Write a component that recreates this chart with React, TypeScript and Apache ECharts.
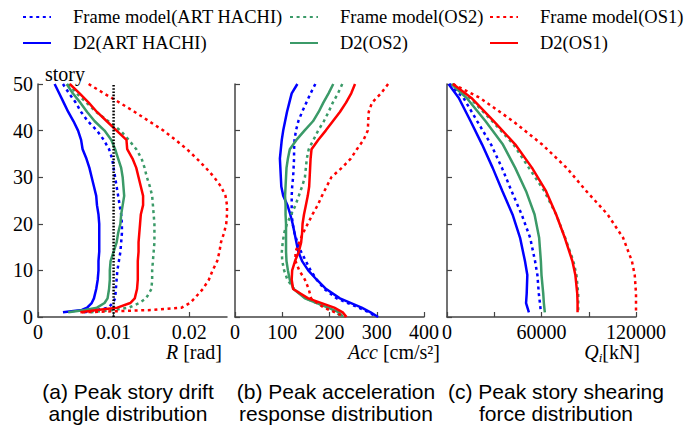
import React, { useEffect, useRef } from 'react';
import * as echarts from 'echarts';

// ---------- data ----------
const SERIES_NAMES = [
  'Frame model(ART HACHI)',
  'D2(ART HACHI)',
  'Frame model(OS2)',
  'D2(OS2)',
  'Frame model(OS1)',
  'D2(OS1)',
];

// (a) peak story drift angle [rad]
const STORY_A = [50, 48, 46, 44, 42, 40, 38, 36, 34, 32, 30, 28, 26, 24, 22, 20, 18, 16, 14, 12, 10, 8, 6, 4, 3, 2, 1.5, 1];
const R_FRAME_ART = [0.0033, 0.0041, 0.005, 0.0057, 0.0066, 0.0078, 0.0087, 0.0094, 0.0098, 0.01, 0.0102, 0.0104, 0.0106, 0.0108, 0.011, 0.0111, 0.0111, 0.011, 0.0109, 0.0107, 0.0105, 0.0104, 0.0103, 0.0102, 0.0099, 0.0093, 0.0078, 0.006];
const R_D2_ART = [0.0022, 0.0028, 0.0034, 0.004, 0.0047, 0.0053, 0.0057, 0.0059, 0.0064, 0.0068, 0.0071, 0.0074, 0.0077, 0.0078, 0.008, 0.0081, 0.0081, 0.0081, 0.0081, 0.008, 0.008, 0.0079, 0.0077, 0.0074, 0.0071, 0.0065, 0.0058, 0.0033];
const R_FRAME_OS2 = [0.004, 0.0051, 0.0064, 0.0077, 0.0093, 0.0109, 0.012, 0.013, 0.0137, 0.0141, 0.0144, 0.0148, 0.0151, 0.0152, 0.0153, 0.0154, 0.0154, 0.0154, 0.0153, 0.0152, 0.0151, 0.0151, 0.015, 0.0143, 0.0134, 0.012, 0.01, 0.0068];
const R_D2_OS2 = [0.0038, 0.0046, 0.0056, 0.0065, 0.0075, 0.0088, 0.0097, 0.0102, 0.0106, 0.011, 0.0112, 0.0113, 0.0114, 0.0112, 0.011, 0.0109, 0.0106, 0.0104, 0.01, 0.0096, 0.0095, 0.0095, 0.0094, 0.0092, 0.0088, 0.0078, 0.0062, 0.004];
const R_FRAME_OS1 = [0.0067, 0.0087, 0.0108, 0.0128, 0.0147, 0.0166, 0.0182, 0.0197, 0.021, 0.0222, 0.0233, 0.0242, 0.0248, 0.025, 0.025, 0.0249, 0.0246, 0.0242, 0.024, 0.0237, 0.0231, 0.0226, 0.0218, 0.0207, 0.0201, 0.019, 0.015, 0.0058];
const R_D2_OS1 = [0.0042, 0.0055, 0.0067, 0.0078, 0.0091, 0.0104, 0.0117, 0.0118, 0.0125, 0.013, 0.0133, 0.0136, 0.0139, 0.0139, 0.0136, 0.0135, 0.0134, 0.0133, 0.0133, 0.0132, 0.0132, 0.0132, 0.0131, 0.0128, 0.0122, 0.0105, 0.0078, 0.0056];
const R_LIMIT = 0.01;

// (b) peak acceleration [cm/s2]
const STORY_B = [50, 48, 46, 44, 42, 40, 38, 36, 34, 32, 30, 28, 26, 24, 22, 20, 18, 16, 14, 12, 10, 8, 6, 4, 2, 1, 0];
const ACC_FRAME_ART = [170, 160, 151, 142, 134, 129, 126, 125, 125, 124, 123, 121, 120, 120, 120, 122, 126, 132, 140, 150, 160, 173, 189, 215, 262, 283, 300];
const ACC_D2_ART = [132, 120, 115, 110, 106, 102, 99, 97, 95, 96, 97, 98, 102, 111, 117, 122, 126, 130, 134, 142, 155, 173, 193, 222, 268, 287, 303];
const ACC_FRAME_OS2 = [227, 218, 207, 198, 188, 176, 166, 156, 152, 150, 148, 142, 135, 128, 119, 110, 104, 101, 99, 100, 104, 111, 125, 150, 195, 215, 225];
const ACC_D2_OS2 = [208, 198, 187, 177, 165, 147, 130, 116, 112, 109, 108, 107, 106, 107, 107, 108, 108, 108, 108, 109, 112, 116, 124, 148, 197, 220, 229];
const ACC_FRAME_OS1 = [324, 309, 290, 283, 282, 281, 272, 258, 245, 226, 204, 194, 184, 175, 164, 154, 144, 136, 128, 128, 136, 148, 156, 161, 188, 212, 232];
const ACC_D2_OS1 = [254, 246, 235, 222, 207, 192, 176, 162, 160, 159, 158, 157, 154, 150, 146, 143, 142, 140, 135, 127, 121, 120, 123, 155, 210, 228, 236];

// (c) peak story shear [kN]
const STORY_C = [50, 47, 42, 37, 32, 27, 22, 17, 12, 9, 5, 3, 1];
const Q_FRAME_ART = [1700, 10500, 19200, 28000, 34900, 41000, 47400, 52800, 55900, 57400, 58300, 59000, 59600];
const Q_D2_ART = [1000, 7500, 15000, 22300, 29000, 35200, 41600, 46400, 49500, 51000, 50600, 50200, 52000];
const Q_FRAME_OS2 = [3800, 14500, 28800, 42300, 52000, 61800, 69300, 75000, 80200, 82200, 83300, 83300, 83300];
const Q_D2_OS2 = [2800, 12500, 24500, 35500, 43300, 50200, 55600, 58500, 59600, 60000, 61100, 61500, 62100];
const Q_FRAME_OS1 = [3800, 21000, 42000, 60500, 76000, 88500, 102000, 111800, 117400, 119200, 120000, 120000, 120000];
const Q_D2_OS1 = [3800, 15500, 29800, 43400, 54000, 62900, 69300, 74800, 79600, 81500, 82700, 82900, 82900];

const CAPTIONS = [
  ['(a) Peak story drift', 'angle distribution'],
  ['(b) Peak acceleration', 'response distribution'],
  ['(c) Peak story shearing', 'force distribution'],
];

// ---------- styling ----------
const BLUE = '#0000ff';
const GREEN = '#3b9a68';
const RED = '#ff0000';
const COLORS = [BLUE, BLUE, GREEN, GREEN, RED, RED];
const SERIF = "'Liberation Serif', 'Times New Roman', serif";
const SANS = "'Liberation Sans', Arial, sans-serif";
const AXIS_COLOR = '#444';
const DOT = [3, 3.6];

const GRID_LEFTS = [38, 235, 447];
const GRID_W = 189;
const GRID_TOP = 84;
const GRID_H = 233;

function buildSeries(gridIdx: number, story: number[], vals: number[][]) {
  return vals.map((xs, i) => ({
    type: 'line',
    name: SERIES_NAMES[i],
    xAxisIndex: gridIdx,
    yAxisIndex: gridIdx,
    symbol: 'none',
    silent: true,
    color: COLORS[i],
    lineStyle: {
      color: COLORS[i],
      width: 2.5,
      type: i % 2 === 0 ? DOT : 'solid',
      cap: 'butt',
    },
    data: xs.map((x, k) => [x, story[k]]),
  }));
}

function xAxis(gridIdx: number, max: number, interval: number, formatter?: (v: number) => string) {
  return {
    gridIndex: gridIdx,
    type: 'value',
    min: 0,
    max,
    interval,
    axisLine: { show: true, onZero: false, lineStyle: { color: AXIS_COLOR, width: 1.5 } },
    axisTick: { show: true, inside: true, length: 5, lineStyle: { color: AXIS_COLOR, width: 1.2 } },
    axisLabel: {
      color: '#000',
      fontSize: 20,
      fontFamily: SERIF,
      margin: 5,
      formatter,
    },
    splitLine: { show: false },
  };
}

function yAxis(gridIdx: number, showLabels: boolean) {
  return {
    gridIndex: gridIdx,
    type: 'value',
    min: 0,
    max: 50,
    interval: 10,
    axisLine: { show: true, onZero: false, lineStyle: { color: AXIS_COLOR, width: 1.5 } },
    axisTick: { show: true, inside: true, length: 5, lineStyle: { color: AXIS_COLOR, width: 1.2 } },
    axisLabel: { show: showLabels, color: '#000', fontSize: 20, fontFamily: SERIF, margin: 5 },
    splitLine: { show: false },
  };
}

function legendCol(left: number, names: string[]) {
  return {
    orient: 'vertical',
    left,
    top: 2,
    itemWidth: 28,
    itemHeight: 14,
    itemGap: 6,
    selectedMode: false,
    data: names,
    itemStyle: { color: 'transparent', borderColor: 'transparent', borderWidth: 0 },
    textStyle: {
      fontFamily: SERIF,
      fontSize: 18.5,
      color: '#000',
      lineHeight: 20,
      padding: [0, 0, 0, 17],
    },
  };
}

const axisNameStyle = {
  fontFamily: SERIF,
  fontSize: 20,
  fill: '#000',
};

function buildOption() {
  const series: any[] = [
    ...buildSeries(0, STORY_A, [R_FRAME_ART, R_D2_ART, R_FRAME_OS2, R_D2_OS2, R_FRAME_OS1, R_D2_OS1]),
    ...buildSeries(1, STORY_B, [ACC_FRAME_ART, ACC_D2_ART, ACC_FRAME_OS2, ACC_D2_OS2, ACC_FRAME_OS1, ACC_D2_OS1]),
    ...buildSeries(2, STORY_C, [Q_FRAME_ART, Q_D2_ART, Q_FRAME_OS2, Q_D2_OS2, Q_FRAME_OS1, Q_D2_OS1]),
    {
      type: 'line',
      name: 'limit',
      xAxisIndex: 0,
      yAxisIndex: 0,
      symbol: 'none',
      silent: true,
      z: 5,
      lineStyle: { color: '#000', width: 2.5, type: [1.6, 1.6] },
      data: [[R_LIMIT, 0], [R_LIMIT, 50]],
    },
  ];

  const captionGraphics: any[] = [];
  const capCenters = [128, 336, 556];
  CAPTIONS.forEach((lines, i) => {
    lines.forEach((t, j) => {
      captionGraphics.push({
        type: 'text',
        x: capCenters[i],
        y: 391 + j * 22,
        style: {
          text: t,
          fontFamily: SANS,
          fontSize: 21,
          fill: '#000',
          align: 'center',
          verticalAlign: 'middle',
        },
      });
    });
  });

  return {
    animation: false,
    textStyle: { fontFamily: SERIF },
    grid: GRID_LEFTS.map((l) => ({ left: l, top: GRID_TOP, width: GRID_W, height: GRID_H, containLabel: false })),
    xAxis: [
      xAxis(0, 0.025, 0.01),
      xAxis(1, 400, 100),
      xAxis(2, 120000, 30000, (v: number) => (v % 60000 === 0 ? String(v) : '')),
    ],
    yAxis: [yAxis(0, true), yAxis(1, false), yAxis(2, false)],
    legend: [
      legendCol(17, [SERIES_NAMES[0], SERIES_NAMES[1]]),
      legendCol(284, [SERIES_NAMES[2], SERIES_NAMES[3]]),
      legendCol(484, [SERIES_NAMES[4], SERIES_NAMES[5]]),
    ],
    series,
    graphic: [
      {
        type: 'text',
        x: 45,
        y: 74,
        style: { text: 'story', ...axisNameStyle, align: 'left', verticalAlign: 'middle' },
      },
      {
        type: 'text',
        x: 222,
        y: 352,
        style: {
          text: '{i|R} [rad]',
          ...axisNameStyle,
          align: 'right',
          verticalAlign: 'middle',
          rich: { i: { fontStyle: 'italic', fontFamily: SERIF, fontSize: 20 } },
        },
      },
      {
        type: 'text',
        x: 440,
        y: 352,
        style: {
          text: '{i|Acc} [cm/s²]',
          ...axisNameStyle,
          align: 'right',
          verticalAlign: 'middle',
          rich: { i: { fontStyle: 'italic', fontFamily: SERIF, fontSize: 20 } },
        },
      },
      {
        type: 'text',
        x: 640,
        y: 352,
        style: {
          text: '{q|Q}{s|i}[kN]',
          ...axisNameStyle,
          align: 'right',
          verticalAlign: 'middle',
          rich: {
            q: { fontStyle: 'italic', fontFamily: SERIF, fontSize: 20, lineHeight: 24 },
            s: { fontStyle: 'italic', fontFamily: SERIF, fontSize: 13, verticalAlign: 'bottom', lineHeight: 14 },
          },
        },
      },
      ...captionGraphics,
    ],
  };
}

export default function App() {
  const ref = useRef<HTMLDivElement>(null);
  useEffect(() => {
    if (!ref.current) return;
    const chart = echarts.init(ref.current, null, { renderer: 'svg' });
    chart.setOption(buildOption() as any);
    return () => chart.dispose();
  }, []);
  return (
    <div
      ref={ref}
      style={{ position: 'absolute', left: 0, top: 0, width: 694, height: 426, background: '#fff' }}
    />
  );
}
